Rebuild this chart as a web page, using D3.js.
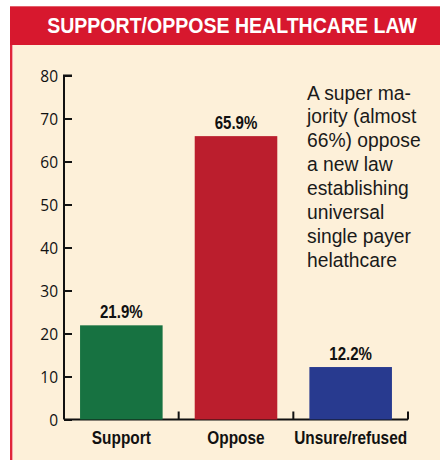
<!DOCTYPE html>
<html><head><meta charset="utf-8">
<script src="https://cdn.jsdelivr.net/npm/d3@7"></script>
<style>html,body{margin:0;padding:0;background:#fff;}svg{display:block;}</style>
</head><body>
<script>
const title = "SUPPORT/OPPOSE HEALTHCARE LAW";
const categories = ["Support", "Oppose", "Unsure/refused"];
const values = [21.9, 65.9, 12.2];
const valueLabels = ["21.9%", "65.9%", "12.2%"];
const barColors = ["#177241", "#BB1E2D", "#283A8F"];
const yTicks = [0, 10, 20, 30, 40, 50, 60, 70, 80];
const note = ["A super ma-", "jority (almost", "66%) oppose", "a new law", "establishing", "universal", "single payer", "helathcare"];

const W = 440, H = 460;
const svg = d3.select("body").append("svg").attr("width", W).attr("height", H);
const FONT = "'Liberation Sans', Arial, sans-serif";

// condense text horizontally by a factor
function condense(sel, f) {
  sel.each(function () {
    const w = this.getComputedTextLength();
    d3.select(this).attr("textLength", w * f).attr("lengthAdjust", "spacingAndGlyphs");
  });
}

// panel
svg.append("rect").attr("x", 10).attr("y", 6).attr("width", W - 10).attr("height", H - 6).attr("fill", "#FDF0D9");
svg.append("rect").attr("x", 10).attr("y", 6).attr("width", W - 10).attr("height", 39).attr("fill", "#D7182E");
svg.append("rect").attr("x", 10).attr("y", 6).attr("width", W - 10).attr("height", 1).attr("fill", "#E4606C");
svg.append("rect").attr("x", 10).attr("y", 45).attr("width", 2).attr("height", H - 45).attr("fill", "#E0263A");
svg.append("rect").attr("x", 12).attr("y", 45).attr("width", 1).attr("height", H - 45).attr("fill", "#F4A6AE");

const tt = svg.append("text").attr("x", 0).attr("y", 0).attr("text-anchor", "middle")
  .attr("font-family", FONT).attr("font-weight", "bold")
  .attr("font-size", 21.5).attr("fill", "#fff").text(title);
const tw = tt.node().getComputedTextLength();
tt.attr("transform", `translate(232,33) scale(${370 / tw},1)`);

const x = d3.scaleBand().domain(categories).range([64, 408]).paddingInner(0.28).paddingOuter(0.14);
const y = d3.scaleLinear().domain([0, 80]).range([419.5, 75.5]);

const yAxis = d3.axisRight(y).tickValues(yTicks).tickSize(8).tickPadding(0).tickFormat(d3.format("d"));
const gy = svg.append("g").attr("transform", "translate(64,0)").call(yAxis);
gy.select(".domain").attr("d", `M8,${y(80)}H0V${y(0)}`).attr("stroke", "#111").attr("stroke-width", 2);
gy.selectAll(".tick line").attr("stroke", "#111").attr("stroke-width", 2);
gy.selectAll(".tick text").attr("x", -6).attr("text-anchor", "end").attr("dy", "0.36em")
  .style("font-family", "'Open Sans', sans-serif").style("font-size", "15.5px").attr("fill", "#111");

// x axis baseline with upward ticks at band boundaries
const bounds = categories.map(c => x(c) - x.step() * x.paddingInner() / 2 + x.step());
svg.append("line").attr("x1", 64).attr("x2", bounds[bounds.length - 1]).attr("y1", y(0)).attr("y2", y(0))
  .attr("stroke", "#111").attr("stroke-width", 2);
svg.selectAll(".xt").data(bounds).join("line").attr("class", "xt")
  .attr("x1", d => d).attr("x2", d => d).attr("y1", y(0)).attr("y2", y(0) - 8)
  .attr("stroke", "#111").attr("stroke-width", 2);

svg.selectAll(".bar").data(values).join("rect").attr("class", "bar")
  .attr("x", (d, i) => x(categories[i])).attr("width", x.bandwidth())
  .attr("y", d => y(d)).attr("height", d => y(0) - y(d)).attr("fill", (d, i) => barColors[i]);

svg.selectAll(".vl").data(values).join("text").attr("class", "vl")
  .attr("x", (d, i) => x(categories[i]) + x.bandwidth() / 2).attr("y", d => y(d) - 7)
  .attr("text-anchor", "middle").attr("font-family", FONT)
  .attr("font-weight", "bold").attr("font-size", 17.5).attr("fill", "#111").text((d, i) => valueLabels[i])
  .call(condense, 0.86);

svg.selectAll(".cl").data(categories).join("text").attr("class", "cl")
  .attr("x", d => x(d) + x.bandwidth() / 2).attr("y", 443.5)
  .attr("text-anchor", "middle").attr("font-family", FONT)
  .attr("font-weight", "bold").attr("font-size", 19).attr("fill", "#111").text(d => d)
  .call(condense, 0.81);

svg.append("text").attr("font-family", FONT)
  .attr("font-size", 19.3).attr("fill", "#1a1a1a")
  .selectAll("tspan").data(note).join("tspan").attr("x", 307).attr("y", (d, i) => 99.5 + i * 23.9).text(d => d);
</script>
</body></html>
